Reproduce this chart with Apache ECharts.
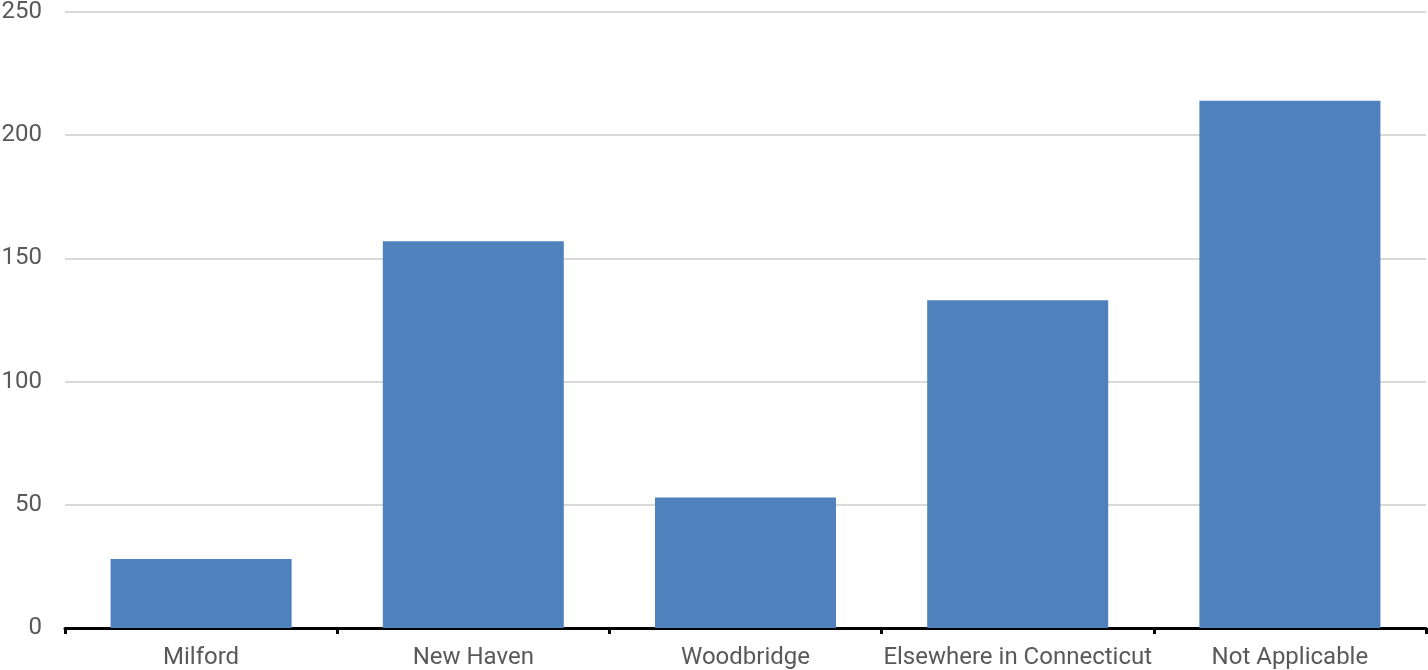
<!DOCTYPE html>
<html>
<head>
<meta charset="utf-8">
<script src="https://cdn.jsdelivr.net/npm/echarts@6/dist/echarts.min.js"></script>
<style>html,body{margin:0;padding:0;background:#fff}#c{width:1428px;height:670px}</style>
</head>
<body>
<div id="c"></div>
<script>
const categories = ["Milford", "New Haven", "Woodbridge", "Elsewhere in Connecticut", "Not Applicable"];
const values = [28, 157, 53, 133, 214];
const yTicks = [0, 50, 100, 150, 200, 250];

const chart = echarts.init(document.getElementById('c'), null, {renderer: 'canvas'});
chart.setOption({
  animation: false,
  backgroundColor: '#fff',
  grid: {left: 65, right: 2, top: 12, bottom: 42, containLabel: false, outerBoundsMode: 'none'},
  xAxis: {
    type: 'category',
    data: categories,
    axisLine: {lineStyle: {color: '#000', width: 3}},
    axisTick: {show: true, interval: 0, length: 6, lineStyle: {color: '#000', width: 3}, alignWithLabel: false},
    axisLabel: {interval: 0, color: '#595959', fontSize: 24, fontFamily: 'Roboto', margin: 18}
  },
  yAxis: {
    type: 'value',
    min: yTicks[0],
    max: yTicks[yTicks.length - 1],
    interval: 50,
    axisLine: {show: false},
    axisTick: {show: false},
    splitLine: {lineStyle: {color: '#d9d9d9', width: 2}},
    axisLabel: {color: '#595959', fontSize: 24, fontFamily: 'Roboto', margin: 23}
  },
  series: [{
    type: 'bar',
    data: values,
    barWidth: '66.5%',
    itemStyle: {color: '#4f81bd'}
  }]
});
</script>
</body>
</html>
